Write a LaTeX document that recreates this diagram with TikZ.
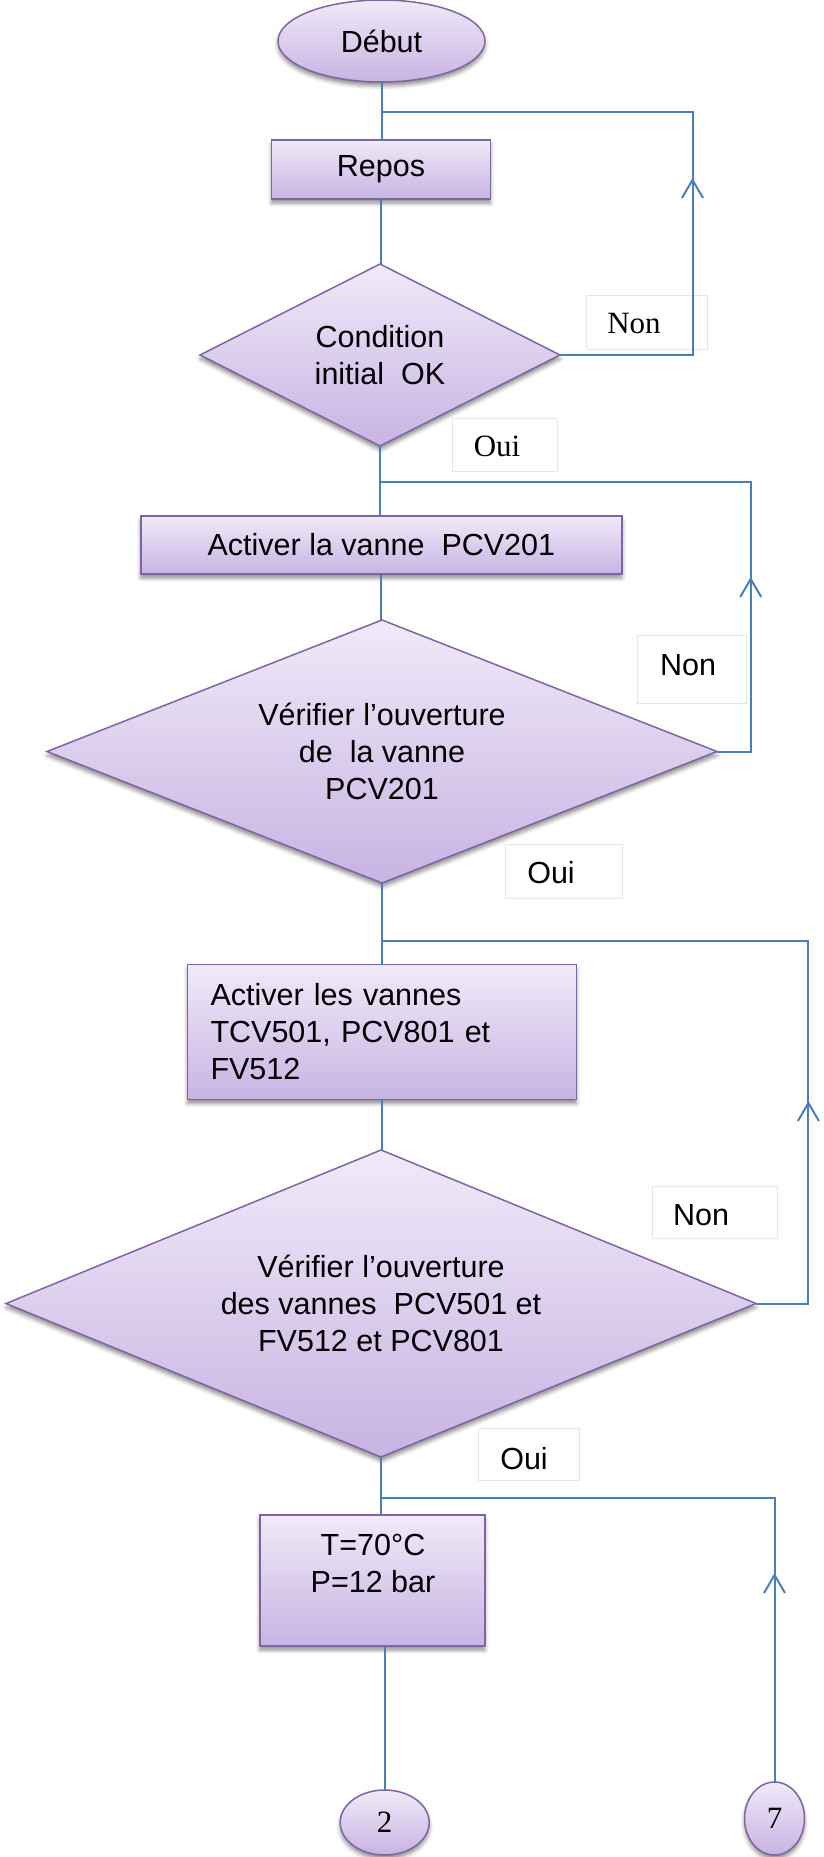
\documentclass[tikz,border=0pt]{standalone}
\usepackage{fontspec}
\setmainfont{Liberation Sans}
\newfontfamily\timesfont{Liberation Serif}
\usetikzlibrary{shapes.geometric,arrows.meta,shadows.blur}
\definecolor{flowline}{HTML}{4A7EBB}
\definecolor{shapeedge}{HTML}{8064A2}
\definecolor{filltop}{HTML}{F0EAF8}
\definecolor{fillbot}{HTML}{C8B3E3}
\definecolor{tagedge}{HTML}{E6E6E6}

\begin{document}
\begin{tikzpicture}[x=1pt,y=-1pt,
  every node/.style={font=\fontsize{30.5}{37}\selectfont, inner sep=0pt, outer sep=0pt},
  shaded/.style={draw=shapeedge, line width=1.5pt, top color=filltop, bottom color=fillbot,
    blur shadow={shadow xshift=0pt, shadow yshift=-4pt, shadow blur radius=4pt, shadow opacity=45}},
  procbox/.style={shaded, rectangle, align=center},
  decision/.style={shaded, diamond, align=center},
  terminal/.style={shaded, ellipse},
  tagbox/.style={draw=tagedge, line width=1pt, fill=white, rectangle},
  serif/.style={font=\timesfont\fontsize{31}{37}\selectfont},
  flow/.style={draw=flowline, line width=2pt},
  uparrow/.style={draw=flowline, line width=2pt, -{Straight Barb[length=18pt, width=21pt, line width=2pt]}}
]
\useasboundingbox (0,0) rectangle (823,1857);

% answer tags (white boxes with a faint frame)
\node[tagbox, minimum width=121pt, minimum height=54pt] (tagN1) at (646.5,322) {};
\node[serif] (txtN1) at (634,323) {Non};
\node[tagbox, minimum width=105pt, minimum height=53pt] (tagO1) at (505,444.5) {};
\node[serif] (txtO1) at (497,446) {Oui};
\node[tagbox, minimum width=109pt, minimum height=68pt] (tagN2) at (692,669) {};
\node (txtN2) at (688,665) {Non};
\node[tagbox, minimum width=117pt, minimum height=54pt] (tagO2) at (563.5,871.3) {};
\node (txtO2) at (551,873) {Oui};
\node[tagbox, minimum width=125pt, minimum height=52pt] (tagN3) at (714.5,1212) {};
\node (txtN3) at (701,1215.6) {Non};
\node[tagbox, minimum width=101pt, minimum height=52pt] (tagO3) at (529,1454) {};
\node (txtO3) at (524,1459) {Oui};

% flowchart shapes
\node[terminal, minimum width=207pt, minimum height=82pt] (debut) at (381.5,41) {Début};
\node[procbox, minimum width=219pt, minimum height=59pt] (repos) at (381,169.5) {Repos};
\node[decision, aspect=2, minimum width=360pt, minimum height=182pt] (d1) at (380,355)
  {Condition\\initial~ OK};
\node[procbox, minimum width=481pt, minimum height=58pt] (act1) at (381.4,545)
  {Activer la vanne~ PCV201};
\node[decision, aspect=2.5, minimum width=670pt, minimum height=263pt] (d2) at (382,751.5)
  {Vérifier l’ouverture\\de~ la vanne\\PCV201};
\node[procbox, minimum width=389pt, minimum height=135pt, text width=343pt, align=left] (act2) at (382,1032)
  {Activer les vannes\\TCV501, PCV801 et\\FV512};
\node[decision, aspect=2.44, minimum width=750pt, minimum height=307pt] (d3) at (381,1303.5)
  {Vérifier l’ouverture\\des vannes~ PCV501 et\\FV512 et PCV801};
\node[procbox, minimum width=225pt, minimum height=131pt] (setp) at (372.3,1580.5) {};
\node[align=center] (setptxt) at (373,1563) {T=70°C\\P=12 bar};
\node[terminal, serif, minimum width=89pt, minimum height=65pt] (c2) at (384.7,1822.5) {2};
\node[terminal, serif, minimum width=60pt, minimum height=73pt] (c7) at (774.5,1818.5) {7};

% junction and corner points of the return loops
\coordinate (j1) at (381.5,112);
\coordinate (r1) at (692.5,355);
\coordinate (r1t) at (692.5,112);
\coordinate (a1) at (692.5,178);
\coordinate (j2) at (381,482);
\coordinate (r2) at (750.7,751.5);
\coordinate (r2t) at (750.7,482);
\coordinate (a2) at (750.7,577);
\coordinate (j3) at (382,941);
\coordinate (r3) at (808.4,1303.5);
\coordinate (r3t) at (808.4,941);
\coordinate (a3) at (808.4,1101);
\coordinate (j4) at (382,1497.7);
\coordinate (a4) at (774.5,1573);

% main flow
\draw[flow] (debut.south) -- (debut.south |- repos.north);
\draw[flow] (repos.south) -- (repos.south |- d1.north);
\draw[flow] (d1.south) -- (d1.south |- act1.north);
\draw[flow] (act1.south) -- (act1.south |- d2.north);
\draw[flow] (d2.south) -- (act2.north);
\draw[flow] (act2.south) -- (act2.south |- d3.north);
\draw[flow] (d3.south) -- (d3.south |- setp.north);
\draw[flow] (c2.north |- setp.south) -- (c2.north);

% "Non" return loops
\draw[flow] (d1.east) -- (r1) -- (r1t) -- (j1);
\draw[uparrow] (r1) -- (a1);
\draw[flow] (d2.east) -- (r2) -- (r2t) -- (j2);
\draw[uparrow] (r2) -- (a2);
\draw[flow] (d3.east) -- (r3) -- (r3t) -- (j3);
\draw[uparrow] (r3) -- (a3);
\draw[flow] (c7.north) -- (c7.north |- j4) -- (j4);
\draw[uparrow] (c7.north) -- (a4);
\end{tikzpicture}
\end{document}
